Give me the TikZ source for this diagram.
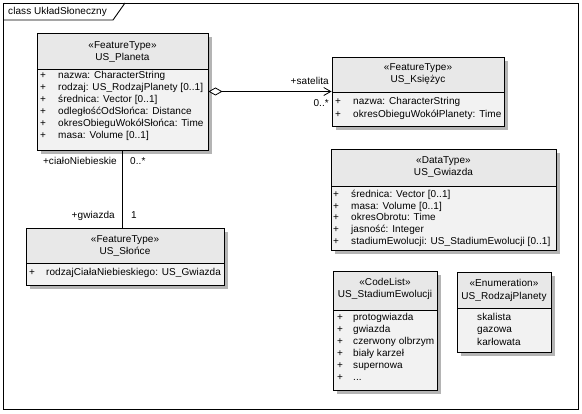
\documentclass[tikz,border=0pt]{standalone}
\usepackage{fontspec}
\setmainfont[LetterSpace=0.8]{Liberation Sans}
\usetikzlibrary{arrows.meta,fit}
\newcommand\fs{\fontsize{10}{12}\selectfont}
\definecolor{shadowc}{HTML}{B4B4B4}
\definecolor{headc}{HTML}{E8E8E8}
\definecolor{bodyc}{HTML}{F2F2F2}
\tikzset{
  classbox/.style={draw=black, line width=0.9pt, inner sep=0pt},
  classline/.style={draw=black, line width=0.8pt},
  txtbase/.style={font=\fs, inner sep=0pt, text height=7.2pt, text depth=2pt},
  attr/.style={txtbase, anchor=west},
  plussign/.style={txtbase, anchor=center},
  hdr/.style={txtbase, anchor=center},
  rlabel/.style={txtbase, anchor=east},
  llabel/.style={txtbase, anchor=west},
  conn/.style={draw=black, line width=0.8pt},
}
\newcommand\umlclass[6]{%
  \fill[shadowc] ({#2+4},{#3+4}) rectangle ({#4+4},{#5+4});
  \fill[bodyc] (#2,#3) rectangle (#4,#5);
  \fill[headc] (#2,#3) rectangle (#4,#6);
  \node[classbox, fit={(#2,#3)(#4,#5)}] (#1) {};
  \draw[classline] (#2,#6) -- (#4,#6);
}
\begin{document}
\begin{tikzpicture}[x=1pt,y=-1pt]
\useasboundingbox (0,0) rectangle (582,414);
\fill[white] (0,0) rectangle (582,414);
% frame
\draw[line width=0.9pt] (3,3) rectangle (578,409);
\draw[line width=0.9pt] (3,20) -- (113,20) -- (125,3);
\node[llabel] (title) at (8,12) {class UkładSłoneczny};

% US_Planeta
\umlclass{planeta}{37}{33}{208}{150}{69}
\node[hdr] (pl-st) at (122.5,46) {«FeatureType»};
\node[hdr] (pl-nm) at (122.5,58) {US\_Planeta};
\foreach \y/\t [count=\i] in {76/{nazwa: CharacterString},88/{rodzaj: US\_RodzajPlanety [0..1]},100/{średnica: Vector [0..1]},112/{odległośćOdSłońca: Distance},124/{okresObieguWokółSłońca: Time},136/{masa: Volume [0..1]}}{
  \node[plussign] (pl-p\i) at (43,\y) {+};
  \node[attr] (pl-a\i) at (58,\y) {\t};
}

% US_Księżyc
\umlclass{ksiezyc}{332}{57}{504}{126}{92}
\node[hdr] (ks-st) at (418,68) {«FeatureType»};
\node[hdr] (ks-nm) at (418,80) {US\_Księżyc};
\foreach \y/\t [count=\i] in {102/{nazwa: CharacterString},115/{okresObieguWokółPlanety: Time}}{
  \node[plussign] (ks-p\i) at (338,\y) {+};
  \node[attr] (ks-a\i) at (353,\y) {\t};
}

% US_Słońce
\umlclass{slonce}{26}{228}{224}{285}{263}
\node[hdr] (sl-st) at (125,240) {«FeatureType»};
\node[hdr] (sl-nm) at (125,252) {US\_Słońce};
\node[plussign] (sl-p1) at (32,273) {+};
\node[attr] (sl-a1) at (46,273) {rodzajCiałaNiebieskiego: US\_Gwiazda};

% US_Gwiazda
\umlclass{gwiazda}{331}{149}{556}{250}{186}
\node[hdr] (gw-st) at (443.5,161) {«DataType»};
\node[hdr] (gw-nm) at (443.5,173) {US\_Gwiazda};
\foreach \y/\t [count=\i] in {195/{średnica: Vector [0..1]},207/{masa: Volume [0..1]},218/{okresObrotu: Time},230/{jasność: Integer},242/{stadiumEwolucji: US\_StadiumEwolucji [0..1]}}{
  \node[plussign] (gw-p\i) at (336,\y) {+};
  \node[attr] (gw-a\i) at (351,\y) {\t};
}

% US_StadiumEwolucji
\umlclass{stadium}{333}{271}{437}{390}{310}
\node[hdr] (st-st) at (385,283) {«CodeList»};
\node[hdr] (st-nm) at (385,295) {US\_StadiumEwolucji};
\foreach \y/\t [count=\i] in {318/{protogwiazda},330/{gwiazda},342/{czerwony olbrzym},354/{biały karzeł},366/{supernowa},378/{...}}{
  \node[plussign] (st-p\i) at (340,\y) {+};
  \node[attr] (st-a\i) at (353,\y) {\t};
}

% US_RodzajPlanety
\umlclass{rodzaj}{457}{272}{551}{352}{308}
\node[hdr] (ro-st) at (504,284) {«Enumeration»};
\node[hdr] (ro-nm) at (504,297) {US\_RodzajPlanety};
\foreach \y/\t [count=\i] in {318/{skalista},330/{gazowa},343/{karłowata}}{
  \node[attr] (ro-a\i) at (477,\y) {\t};
}

% aggregation Planeta -> Księżyc
\draw[conn, {Diamond[open,length=14pt,width=8pt,fill=white]}-{Straight Barb[length=7pt,width=8pt]}] (planeta.east) -- (ksiezyc.west);
\node[rlabel] (lb-sat) at (329,82) {+satelita};
\node[rlabel] (lb-sat-m) at (329,104) {0..*};

% association Planeta -- Słońce
\draw[conn] (planeta.south) -- (planeta.south |- slonce.north);
\node[rlabel] (lb-cn) at (117,162) {+ciałoNiebieskie};
\node[llabel] (lb-cn-m) at (130,162) {0..*};
\node[rlabel] (lb-gw) at (115,216) {+gwiazda};
\node[llabel] (lb-gw-m) at (131,216) {1};
\end{tikzpicture}
\end{document}
